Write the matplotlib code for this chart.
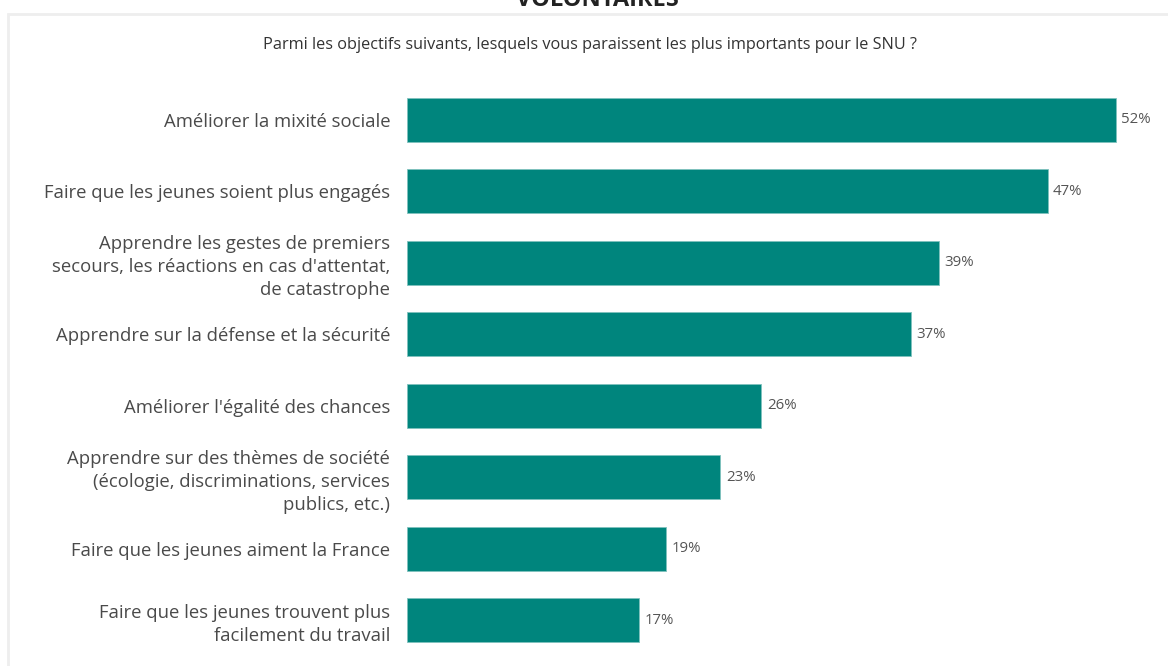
import matplotlib.pyplot as plt
from matplotlib.patches import Rectangle

plt.rcParams['font.family'] = ['Open Sans', 'DejaVu Sans']

# donnees
objectifs = [
    "Améliorer la mixité sociale",
    "Faire que les jeunes soient plus engagés",
    "Apprendre les gestes de premiers\nsecours, les réactions en cas d'attentat,\nde catastrophe",
    "Apprendre sur la défense et la sécurité",
    "Améliorer l'égalité des chances",
    "Apprendre sur des thèmes de société\n(écologie, discriminations, services\npublics, etc.)",
    "Faire que les jeunes aiment la France",
    "Faire que les jeunes trouvent plus\nfacilement du travail",
]
pourcentages = [52, 47, 39, 37, 26, 23, 19, 17]
titre = "Parmi les objectifs suivants, lesquels vous paraissent les plus importants pour le SNU ?"

W, H = 1168, 666
fig = plt.figure(figsize=(W / 100, H / 100), dpi=100)
fig.patch.set_facecolor('white')

# cadre gris clair
fig.patches.append(Rectangle((8 / W, -0.1), 1.2, 1 - 14 / H + 0.1, transform=fig.transFigure,
                             fill=False, edgecolor='#eeeeee', linewidth=2, zorder=0))

# titre coupe en haut (comme sur la capture)
fig.text(597 / W, 1 - 0 / H, "VOLONTAIRES", ha='center', va='center', fontsize=17,
         fontweight='bold', color='#222222')
fig.text(590 / W, 1 - 45 / H, titre, ha='center', va='center', fontsize=11.7, color='#333333')

ax = fig.add_axes([407 / W, 1 - 656 / H, 750 / W, 572 / H])
y = list(range(len(objectifs)))
ax.barh(y, pourcentages, height=0.62, color='#00857d', edgecolor='#7fc2bd', linewidth=0.6)
ax.set_xlim(0, 750 / 13.63)
ax.set_ylim(len(objectifs) - 0.5, -0.5)

for i, v in enumerate(pourcentages):
    ax.text(v + 0.4, i, f"{v}%", va='center', ha='left', fontsize=10.8, color='#555555')

ax.set_yticks(y)
ax.set_yticklabels(objectifs, fontsize=13.3, color='#4a4a4a', linespacing=1.35)
ax.tick_params(axis='y', length=0, pad=12)
ax.set_xticks([])
for s in ax.spines.values():
    s.set_visible(False)

plt.savefig('out.png', dpi=100, facecolor='white')
